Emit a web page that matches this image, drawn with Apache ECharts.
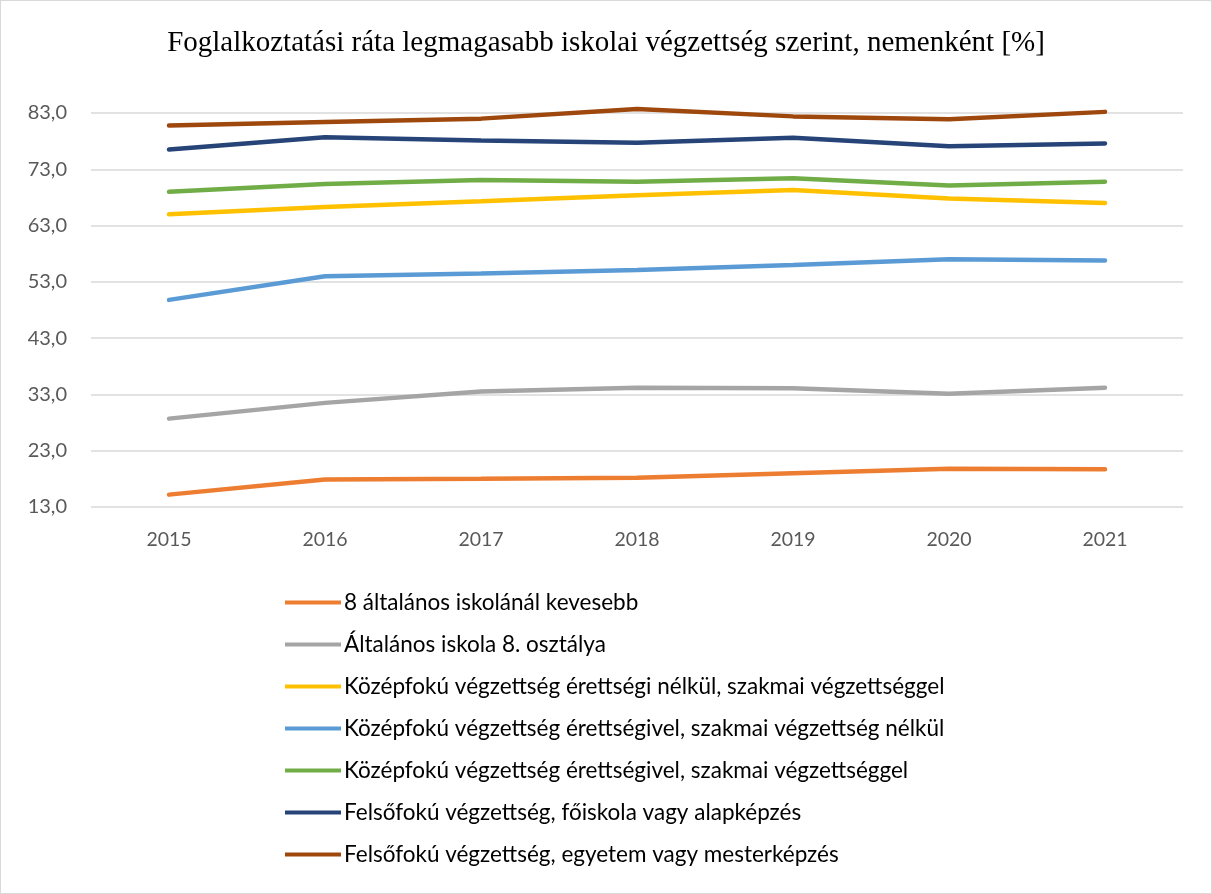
<!DOCTYPE html>
<html>
<head>
<meta charset="utf-8">
<script src="https://cdn.jsdelivr.net/npm/echarts@6/dist/echarts.min.js"></script>
<style>
  html, body { margin: 0; padding: 0; background: #fff; }
  #chart { width: 1210px; height: 892px; border: 1px solid #d9d9d9; }
</style>
</head>
<body>
<div id="chart"></div>
<script>
// years on the x axis
const years = ['2015', '2016', '2017', '2018', '2019', '2020', '2021'];

// values (%)
const kevesebb8 = [15.2, 17.9, 18.0, 18.2, 19.0, 19.8, 19.7];
const altalanos8 = [28.7, 31.5, 33.5, 34.2, 34.1, 33.1, 34.2];
const erettsegiNelkulSzakmai = [65.0, 66.3, 67.3, 68.4, 69.3, 67.8, 67.0];
const erettsegivelSzakmaiNelkul = [49.8, 54.0, 54.5, 55.1, 56.0, 57.0, 56.8];
const erettsegivelSzakmai = [69.0, 70.4, 71.1, 70.8, 71.4, 70.1, 70.8];
const foiskola = [76.5, 78.7, 78.1, 77.7, 78.6, 77.1, 77.6];
const egyetem = [80.8, 81.4, 82.0, 83.7, 82.4, 81.9, 83.2];

const seriesDefs = [
  ['8 általános iskolánál kevesebb', kevesebb8, '#ED7D31'],
  ['Általános iskola 8. osztálya', altalanos8, '#A5A5A5'],
  ['Középfokú végzettség érettségi nélkül, szakmai végzettséggel', erettsegiNelkulSzakmai, '#FFC000'],
  ['Középfokú végzettség érettségivel, szakmai végzettség nélkül', erettsegivelSzakmaiNelkul, '#5B9BD5'],
  ['Középfokú végzettség érettségivel, szakmai végzettséggel', erettsegivelSzakmai, '#70AD47'],
  ['Felsőfokú végzettség, főiskola vagy alapképzés', foiskola, '#264478'],
  ['Felsőfokú végzettség, egyetem vagy mesterképzés', egyetem, '#9E480E']
];

const chart = echarts.init(document.getElementById('chart'));

const option = {
  animation: false,
  title: {
    text: 'Foglalkoztatási ráta legmagasabb iskolai végzettség szerint, nemenként [%]',
    left: 'center',
    top: 23,
    textStyle: {
      fontFamily: 'Liberation Serif',
      fontWeight: 'normal',
      fontSize: 29,
      color: '#000'
    }
  },
  legend: {
    orient: 'vertical',
    left: 284,
    top: 590,
    padding: 0,
    itemGap: 19,
    itemWidth: 56,
    itemHeight: 4,
    icon: 'rect',
    textStyle: {
      fontFamily: 'Lato',
      fontSize: 22.5,
      lineHeight: 23,
      color: '#000',
      padding: [0, 0, 0, -2]
    },
    data: seriesDefs.map(s => s[0])
  },
  grid: {
    left: 90,
    right: 28,
    top: 112,
    bottom: 386
  },
  xAxis: {
    type: 'category',
    data: years,
    boundaryGap: true,
    axisLine: { show: false },
    axisTick: { show: false },
    axisLabel: {
      margin: 23,
      fontFamily: 'Lato',
      fontSize: 19.5,
      color: '#595959'
    }
  },
  yAxis: {
    type: 'value',
    min: 13,
    max: 83,
    interval: 10,
    axisLabel: {
      margin: 24,
      fontFamily: 'Lato',
      fontSize: 20,
      color: '#595959',
      formatter: v => v.toFixed(1).replace('.', ',')
    },
    splitLine: { lineStyle: { color: '#d9d9d9', width: 1.5 } }
  },
  series: seriesDefs.map(([name, data, color]) => ({
    name: name,
    type: 'line',
    data: data,
    symbol: 'none',
    clip: false,
    color: color,
    lineStyle: { width: 4.5, color: color, cap: 'round' }
  }))
};

chart.setOption(option);
</script>
</body>
</html>
